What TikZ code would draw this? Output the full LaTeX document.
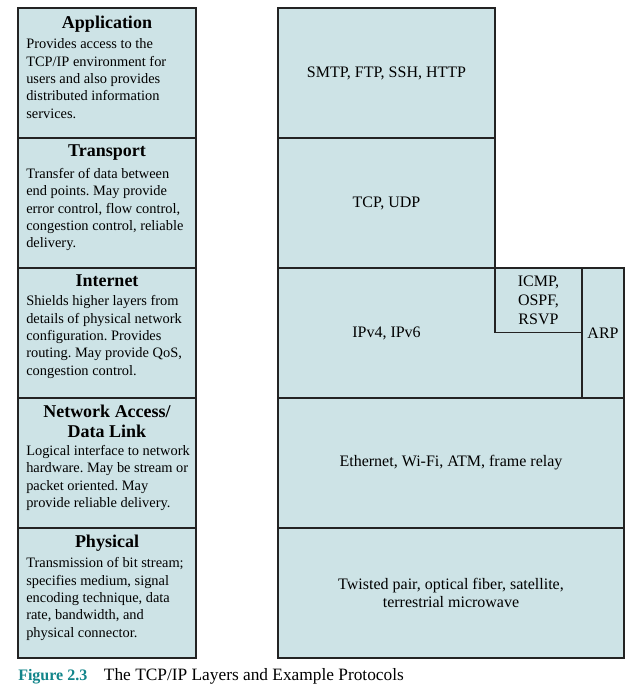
\documentclass[tikz,border=0pt]{standalone}
\usepackage{fontspec}
\setmainfont{Liberation Serif}
\usetikzlibrary{positioning}
\definecolor{layerfill}{RGB}{205,227,230}
\definecolor{layerline}{RGB}{35,35,35}
\definecolor{figteal}{RGB}{18,133,138}
\frenchspacing

\begin{document}
\begin{tikzpicture}[node distance=0pt,
  layer/.style={draw=layerline, fill=layerfill, line width=1.2pt, rectangle,
    outer sep=0pt, inner sep=0pt, minimum height=97.5pt},
  desc/.style={layer, minimum width=133.5pt},
  proto/.style={layer, font=\fontsize{12}{14}\selectfont, align=center},
  title/.style={font=\fontsize{13.5}{15}\selectfont\bfseries, align=center,
    inner sep=0pt, anchor=north},
  body/.style={font=\fontsize{10.8}{13}\selectfont, align=left,
    inner sep=0pt, anchor=north west}]
  \useasboundingbox (0,0) rectangle (475.5pt,-523.5pt);
  % layer column
  \node[desc, anchor=north west] (app) at (13.5pt,-6pt) {};
  \node[desc, below=of app] (trans) {};
  \node[desc, below=of trans] (inet) {};
  \node[desc, below=of inet] (link) {};
  \node[desc, below=of link] (phys) {};
  \node[title] (appT) at ([yshift=-5.5pt]app.north) {Application};
  \node[body] (appB) at ([xshift=6pt,yshift=-23pt]app.north west)
    {Provides access to the\\TCP/IP environment for\\users and also provides\\distributed information\\services.};
  \node[title] (transT) at ([yshift=-5pt]trans.north) {Transport};
  \node[body] (transB) at ([xshift=6pt,yshift=-22.6pt]trans.north west)
    {Transfer of data between\\end points. May provide\\error control, flow control,\\congestion control, reliable\\delivery.};
  \node[title] (inetT) at ([yshift=-5pt]inet.north) {Internet};
  \node[body] (inetB) at ([xshift=6pt,yshift=-20.6pt]inet.north west)
    {Shields higher layers from\\details of physical network\\configuration. Provides\\routing. May provide QoS,\\congestion control.};
  \node[title] (linkT) at ([yshift=-5pt]link.north) {Network Access/\\Data Link};
  \node[body] (linkB) at ([xshift=6pt,yshift=-35.3pt]link.north west)
    {Logical interface to network\\hardware. May be stream or\\packet oriented. May\\provide reliable delivery.};
  \node[title] (physT) at ([yshift=-5pt]phys.north) {Physical};
  \node[body] (physB) at ([xshift=6pt,yshift=-22pt]phys.north west)
    {Transmission of bit stream;\\specifies medium, signal\\encoding technique, data\\rate, bandwidth, and\\physical connector.};
  % protocol column
  \node[proto, minimum width=162.75pt, right=61.5pt of app] (appP) {SMTP, FTP, SSH, HTTP};
  \node[proto, minimum width=162.75pt, right=61.5pt of trans] (transP) {TCP, UDP};
  \node[proto, minimum width=228pt, right=61.5pt of inet] (inetP) {};
  \node[font=\fontsize{12}{14}\selectfont] (ipv) at (transP.center |- inetP.center) {IPv4, IPv6};
  \node[proto, anchor=north west, minimum width=65.25pt, minimum height=48.4pt]
    (icmp) at (transP.south east) {ICMP,\\OSPF,\\RSVP};
  \node[proto, anchor=north west, minimum width=31.5pt] (arp) at (inetP.north east) {ARP};
  \node[proto, minimum width=259.5pt, right=61.5pt of link] (linkP) {Ethernet, Wi-Fi, ATM, frame relay};
  \node[proto, minimum width=259.5pt, right=61.5pt of phys] (physP)
    {Twisted pair, optical fiber, satellite,\\terrestrial microwave};
  % caption
  \node[anchor=base west, inner sep=0pt] (cap) at (13.5pt,-510pt)
    {{\fontsize{12}{14}\selectfont\bfseries\color{figteal}Figure 2.3}\hspace{12.5pt}{\fontsize{13}{15}\selectfont The TCP/IP Layers and Example Protocols}};
\end{tikzpicture}
\end{document}
